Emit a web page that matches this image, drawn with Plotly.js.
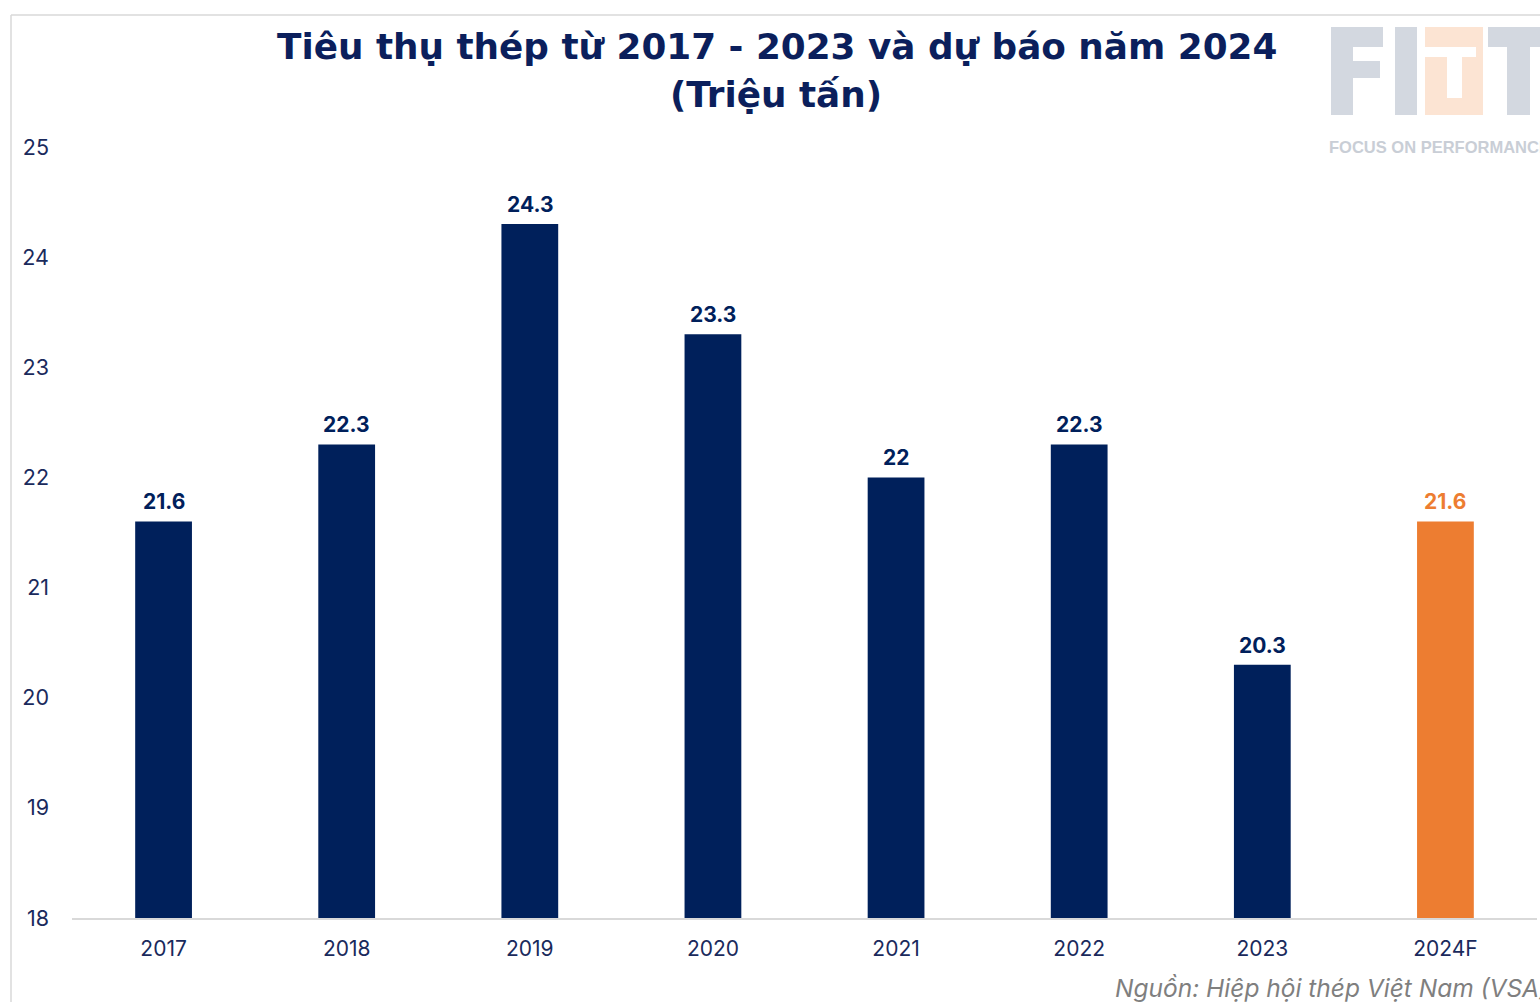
<!DOCTYPE html>
<html>
<head>
<meta charset="utf-8">
<script src="https://cdn.plot.ly/plotly-3.0.1.min.js"></script>
<style>html,body{margin:0;padding:0;background:#fff;}#chart{width:1540px;height:1002px;}</style>
</head>
<body>
<div id="chart"></div>
<script>
const categories = ["2017", "2018", "2019", "2020", "2021", "2022", "2023", "2024F"];
const values = [21.6, 22.3, 24.3, 23.3, 22, 22.3, 20.3, 21.6];
const labels = ["21.6", "22.3", "24.3", "23.3", "22", "22.3", "20.3", "21.6"];
const yTicks = [18, 19, 20, 21, 22, 23, 24, 25];

const NAVY = "#00205b";
const ORANGE = "#ed7d31";
const colors = categories.map(c => c.endsWith("F") ? ORANGE : NAVY);

const FONT = "Inter, 'Open Sans', sans-serif";
const TITLE_FONT = "'DejaVu Sans', sans-serif";

// page geometry (for decoration placement only)
const W = 1540, H = 1002;
const M = {l: 72, r: 3, t: 147, b: 84};
const PW = W - M.l - M.r, PH = H - M.t - M.b;
const px = x => (x - M.l) / PW;
const py = y => (H - M.b - y) / PH;

const trace = {
  type: "bar",
  x: categories,
  y: values,
  marker: {color: colors},
  width: 0.31,
  hoverinfo: "skip"
};

// value labels placed through the category axis (index position) and the y axis
const valueLabels = categories.map((c, i) => ({
  x: i, y: values[i], xref: "x", yref: "y",
  text: "<b>" + labels[i] + "</b>",
  showarrow: false, xanchor: "center", yanchor: "bottom", yshift: 5,
  font: {family: FONT, size: 21, color: colors[i]}
}));

const GRAY = "#d3d8e0";
const PEACH = "#fce4d3";
function rect(x0, y0, x1, y1, color) {
  return {type: "rect", xref: "paper", yref: "paper", x0: px(x0), x1: px(x1), y0: py(y0), y1: py(y1),
          fillcolor: color, line: {width: 0}, layer: "below"};
}

const logoShapes = [
  // F
  rect(1331, 27, 1353, 115, GRAY),
  rect(1353, 27, 1383, 47, GRAY),
  rect(1353, 61, 1380, 78, GRAY),
  // I
  rect(1395, 27, 1417, 115, GRAY),
  // D (peach)
  rect(1425, 27, 1483, 47, PEACH),
  rect(1476, 47, 1483, 57, PEACH),
  rect(1425, 57, 1447, 115, PEACH),
  rect(1462, 57, 1483, 115, PEACH),
  rect(1447, 98, 1462, 115, PEACH),
  // T
  rect(1488, 27, 1545, 47, GRAY),
  rect(1507, 47, 1530, 115, GRAY)
];

const layout = {
  width: W,
  height: H,
  margin: M,
  paper_bgcolor: "#ffffff",
  plot_bgcolor: "#ffffff",
  showlegend: false,
  xaxis: {
    type: "category",
    range: [-0.5, categories.length - 0.5],
    showgrid: false,
    showline: true,
    linecolor: "#d9d9d9",
    linewidth: 1.5,
    ticks: "",
    tickfont: {family: FONT, size: 21, color: "#1a2a5c"},
    ticklabelstandoff: 11,
    fixedrange: true
  },
  yaxis: {
    range: [18, 25],
    tickvals: yTicks,
    ticktext: yTicks.map(String),
    showgrid: false,
    zeroline: false,
    showline: false,
    ticks: "",
    tickfont: {family: FONT, size: 21.5, color: "#1a2a5c"},
    ticklabelstandoff: 22,
    fixedrange: true
  },
  shapes: [
    {type: "line", xref: "paper", yref: "paper", x0: px(11), x1: px(1545), y0: py(15), y1: py(15), line: {color: "#d9d9d9", width: 1.5}},
    {type: "line", xref: "paper", yref: "paper", x0: px(11), x1: px(11), y0: py(15), y1: py(1005), line: {color: "#d9d9d9", width: 1.5}}
  ].concat(logoShapes),
  annotations: valueLabels.concat([
    {
      text: "<b>Tiêu thụ thép từ 2017 - 2023 và dự báo năm 2024</b>",
      xref: "paper", yref: "paper", x: px(777), y: py(46), xanchor: "center", yanchor: "middle",
      showarrow: false,
      font: {family: TITLE_FONT, size: 35.8, color: "#0b1f5c"}
    },
    {
      text: "<b>(Triệu tấn)</b>",
      xref: "paper", yref: "paper", x: px(776), y: py(94), xanchor: "center", yanchor: "middle",
      showarrow: false,
      font: {family: TITLE_FONT, size: 35.8, color: "#0b1f5c"}
    },
    {
      text: "<b>FOCUS ON PERFORMANCE</b>",
      xref: "paper", yref: "paper", x: px(1327), y: py(147), xanchor: "left", yanchor: "middle",
      showarrow: false,
      font: {family: "'Liberation Sans', Arial, sans-serif", size: 16.5, color: "#c9ced6"}
    },
    {
      text: "<i>Nguồn: Hiệp hội thép Việt Nam (VSA)</i>",
      xref: "paper", yref: "paper", x: px(1113), y: py(988), xanchor: "left", yanchor: "middle",
      showarrow: false,
      font: {family: FONT, size: 24.5, color: "#7f7f7f"}
    }
  ])
};

Plotly.newPlot("chart", [trace], layout, {displayModeBar: false, staticPlot: true});
</script>
</body>
</html>
